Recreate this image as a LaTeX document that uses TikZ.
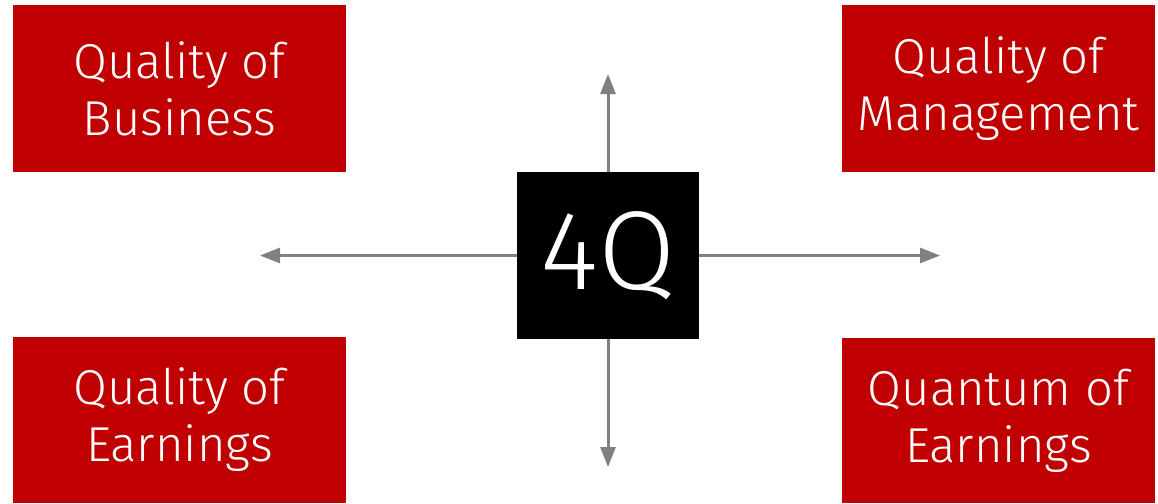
\documentclass[tikz,border=0pt]{standalone}
\usepackage{fontspec}
\setmainfont{Fira Sans}[UprightFont=* Light]
\usetikzlibrary{calc, positioning}
\usetikzlibrary{arrows.meta}
\definecolor{boxred}{RGB}{192,0,0}
\definecolor{arrowgray}{RGB}{128,128,128}

\begin{document}
\begin{tikzpicture}[x=1pt,y=-1pt,
  qbox/.style={fill=boxred,text=white,inner sep=0pt,align=center,
    font=\fontsize{49}{57}\selectfont},
  hub/.style={fill=black,text=white,inner sep=0pt,minimum width=182pt,
    minimum height=167pt,font=\fontsize{112}{120}\selectfont},
  axis/.style={draw=arrowgray,line width=3pt,-{Triangle[length=20pt,width=15pt]}}]
\useasboundingbox (0,0) rectangle (1158,503);
\def\hubx{608}
\def\huby{255.5}
\coordinate (O) at (\hubx,\huby);
\coordinate (N) at (\hubx,74);
\coordinate (S) at (\hubx,467);
\coordinate (W) at (260,\huby);
\coordinate (E) at (940,\huby);

\draw[axis] (O) -- (N);
\draw[axis] (O) -- (S);
\draw[axis] (O) -- (W);
\draw[axis] (O) -- (E);

\node[hub] (fourq) at (O) {4Q};

\node[qbox,minimum width=333pt,minimum height=167pt] (business) at (179.5,88.5) {Quality of\\Business};
\node[qbox,minimum width=313pt,minimum height=167pt] (management) at (998.5,88.5) {Quality of\\Management};
\node[qbox,minimum width=333pt,minimum height=166pt] (quality) at (179.5,420) {Quality of\\Earnings};
\node[qbox,minimum width=313pt,minimum height=165pt] (quantum) at (998.5,420.5) {Quantum of\\Earnings};
\end{tikzpicture}
\end{document}
